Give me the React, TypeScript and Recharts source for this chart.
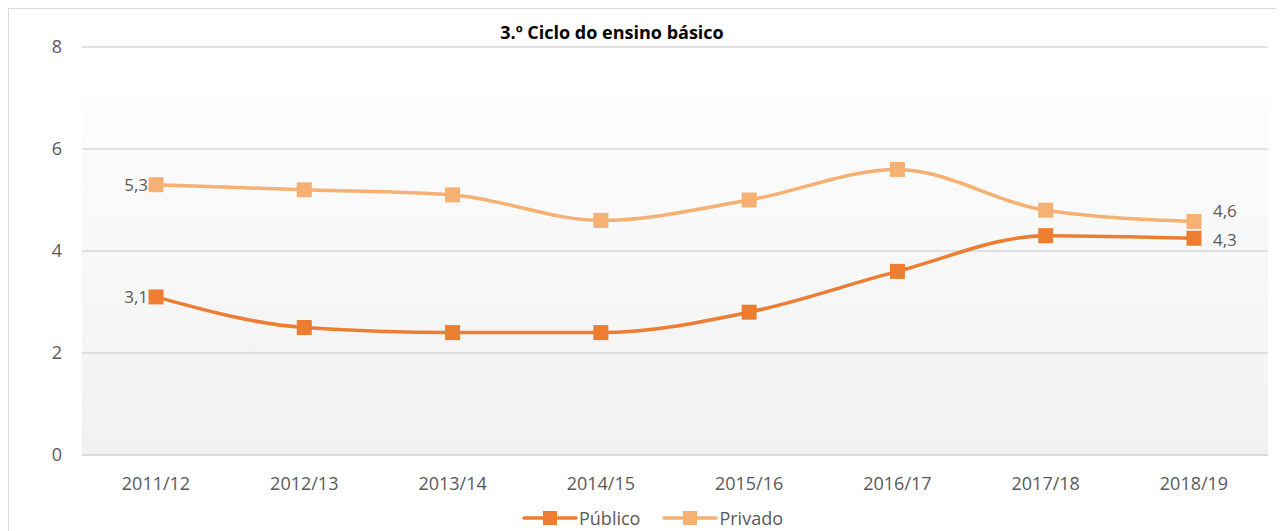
import React from "react";
import {
  LineChart,
  Line,
  XAxis,
  YAxis,
  CartesianGrid,
  LabelList,
} from "recharts";

// ---- data ----
const years = ["2011/12", "2012/13", "2013/14", "2014/15", "2015/16", "2016/17", "2017/18", "2018/19"];
const publico = [3.1, 2.5, 2.4, 2.4, 2.8, 3.6, 4.3, 4.25];
const privado = [5.3, 5.2, 5.1, 4.6, 5.0, 5.6, 4.8, 4.58];
const yTicks = [0, 2, 4, 6, 8];

const COLOR_PUB = "#ED7D31";
const COLOR_PRIV = "#F6B072";
const FONT = "'Open Sans', 'Noto Sans', sans-serif";
const TEXT = "#595959";

const data = years.map((y, i) => ({ year: y, publico: publico[i], privado: privado[i] }));

const fmt = (v: number) => v.toFixed(1).replace(".", ",");

const SquareDot = (color: string) => (props: any) => {
  const { cx, cy, index } = props;
  if (cx == null || cy == null) return null;
  return <rect key={index} x={cx - 7.5} y={cy - 7.5} width={15} height={15} fill={color} />;
};

// only first and last points carry a label
const EndLabel = (dyLast: number) => (props: any) => {
  const { x, y, value, index } = props;
  if (index === 0) {
    return (
      <text x={x - 8} y={y} dy={6} textAnchor="end" fill={TEXT} fontSize={17} fontFamily={FONT}>
        {fmt(value)}
      </text>
    );
  }
  if (index === years.length - 1) {
    return (
      <text x={x + 19} y={y + dyLast} dy={6} textAnchor="start" fill={TEXT} fontSize={17} fontFamily={FONT}>
        {fmt(value)}
      </text>
    );
  }
  return null;
};

function LegendItem({ color, label }: { color: string; label: string }) {
  return (
    <div style={{ display: "flex", alignItems: "center", marginRight: 22 }}>
      <svg width={56} height={16}>
        <line x1={2} y1={8} x2={54} y2={8} stroke={color} strokeWidth={3.5} strokeLinecap="round" />
        <rect x={21} y={1} width={14} height={14} fill={color} />
      </svg>
      <span style={{ marginLeft: 1 }}>{label}</span>
    </div>
  );
}

export default function App() {
  return (
    <div
      style={{
        position: "relative",
        width: 1272,
        height: 530,
        border: "1px solid #d9d9d9",
        borderBottom: "none",
        background: "#fff",
        fontFamily: FONT,
      }}
    >
      <div
        style={{
          position: "absolute",
          left: 0,
          width: 1206,
          top: 11,
          textAlign: "center",
          fontWeight: 700,
          fontSize: 18,
          color: "#000",
        }}
      >
        3.º Ciclo do ensino básico
      </div>
      <LineChart width={1272} height={530} data={data} margin={{ top: 38, right: 13, left: 0, bottom: 54 }}>
        <defs>
          <linearGradient id="plotBg" x1="0" y1="0" x2="0" y2="1">
            <stop offset="0%" stopColor="#ffffff" />
            <stop offset="12.5%" stopColor="#ffffff" />
            <stop offset="12.5%" stopColor="#fdfdfd" />
            <stop offset="100%" stopColor="#f1f1f1" />
          </linearGradient>
        </defs>
        <CartesianGrid vertical={false} stroke="#d9d9d9" strokeWidth={1.5} fill="url(#plotBg)" fillOpacity={1} />
        <XAxis
          dataKey="year"
          padding={{ left: 74, right: 74 }}
          tickLine={false}
          axisLine={{ stroke: "#d9d9d9", strokeWidth: 1.5 }}
          tick={{ fill: TEXT, fontSize: 18, fontFamily: FONT }}
          tickMargin={16}
          interval={0}
          height={30}
        />
        <YAxis
          domain={[0, 8]}
          ticks={yTicks}
          width={73}
          tickLine={false}
          axisLine={false}
          tick={{ fill: TEXT, fontSize: 18, fontFamily: FONT }}
          tickMargin={14}
        />
        <Line
          type="monotone"
          dataKey="privado"
          stroke={COLOR_PRIV}
          strokeWidth={3.5}
          dot={SquareDot(COLOR_PRIV)}
          isAnimationActive={false}
        >
          <LabelList dataKey="privado" content={EndLabel(-10)} />
        </Line>
        <Line
          type="monotone"
          dataKey="publico"
          stroke={COLOR_PUB}
          strokeWidth={3.5}
          dot={SquareDot(COLOR_PUB)}
          isAnimationActive={false}
        >
          <LabelList dataKey="publico" content={EndLabel(2)} />
        </Line>
      </LineChart>
      <div
        style={{
          position: "absolute",
          left: 513,
          top: 497,
          display: "flex",
          fontSize: 18,
          color: TEXT,
        }}
      >
        <LegendItem color={COLOR_PUB} label="Público" />
        <LegendItem color={COLOR_PRIV} label="Privado" />
      </div>
    </div>
  );
}
